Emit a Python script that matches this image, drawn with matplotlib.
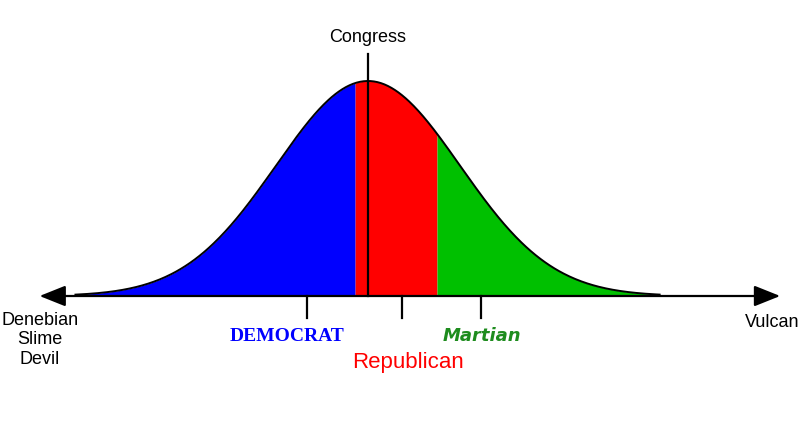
import numpy as np
import matplotlib.pyplot as plt

# positions in standard deviations from the centre of the bell
curve_range = [-3.18, 3.17]
bands = [-3.18, -0.14, 0.75, 3.17]
band_colors = ["#0000ff", "#ff0000", "#00c000"]
tick_pos = [-0.66, 0.37, 1.23]
congress_pos = 0.0
axis_range = [-3.57, 4.48]

labels = ["DEMOCRAT", "Republican", "Martian"]
label_pos = [-0.88, 0.43, 1.24]

px = 92.0  # pixels per unit
fig = plt.figure(figsize=(8, 4.39), dpi=100)
ax = fig.add_axes([0, 0, 1, 1])
ax.set_xlim(-368/px, (800-368)/px)
ax.set_ylim(-142/215, 297/215)
ax.axis("off")

def bell(x):
    return np.exp(-x**2 / 2)

for i, c in enumerate(band_colors):
    xs = np.linspace(bands[i], bands[i+1], 200)
    ax.fill_between(xs, 0, bell(xs), color=c, lw=0, zorder=1)

xs = np.linspace(curve_range[0], curve_range[1], 500)
ax.plot(xs, bell(xs), color="k", lw=1.4, zorder=3)

# axis with arrows
ax.annotate("", xy=(axis_range[1], 0), xytext=(axis_range[0], 0),
            arrowprops=dict(arrowstyle="<|-|>,head_length=1.0,head_width=0.4",
                            mutation_scale=16, lw=1.6, color="k",
                            shrinkA=0, shrinkB=0), zorder=4)

for t in tick_pos:
    ax.plot([t, t], [0, -0.1], color="k", lw=1.6, zorder=4)

ax.plot([congress_pos, congress_pos], [0, 1.126], color="k", lw=1.6, zorder=4)
ax.text(congress_pos, 1.205, "Congress", ha="center", va="center",
        fontsize=13, family="Liberation Sans")

ax.text(-328/px, -0.2, "Denebian\nSlime\nDevil", ha="center", va="center",
        fontsize=13, family="Liberation Sans", linespacing=1.2)
ax.text(800/px - 368/px - 0.01, -0.12, "Vulcan", ha="right", va="center",
        fontsize=13, family="Liberation Sans")

ax.text(label_pos[0], -0.185, labels[0], ha="center", va="center",
        fontsize=14, family="Liberation Serif", fontweight="bold",
        color="#0000ff")
ax.text(label_pos[1], -0.305, labels[1], ha="center", va="center",
        fontsize=16, family="Liberation Sans", color="#ff0000")
ax.text(label_pos[2], -0.18, labels[2], ha="center", va="center",
        fontsize=13, family="DejaVu Sans", fontweight="bold",
        style="italic", color="#1e8c1e")

fig.savefig("out.png", dpi=100)
